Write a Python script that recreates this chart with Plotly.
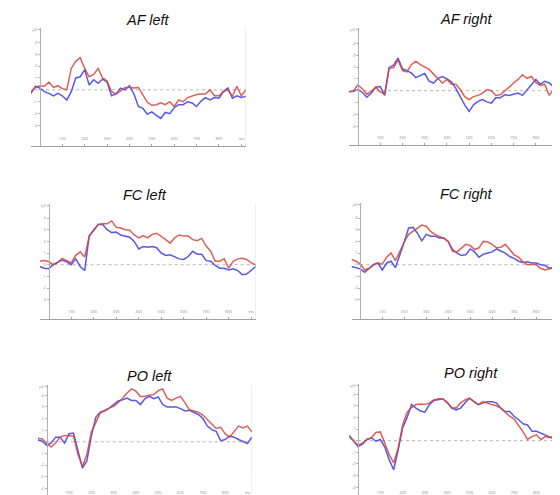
import plotly.graph_objects as go

# ---------------- data ----------------
time_ms = [-40, -20, 0, 20, 40, 60, 80, 100, 120, 140, 160, 180, 200, 220, 240, 260,
           280, 300, 320, 340, 360, 380, 400, 420, 440, 460, 480, 500, 520, 540, 560,
           580, 600, 620, 640, 660, 680, 700, 720, 740, 760, 780, 800, 820, 840, 860,
           880, 900, 920]

af_left_red = [-0.15, 0.2, 0.35, 0.3, 0.65, 0.2, 0.35, 0.1, 0.0, 1.8, 2.4, 2.7, 1.8, 1.1, 1.3, 1.8,
               1.0, 0.75, -0.15, -0.35, -0.1, 0.2, 0.2, 0.15, 0.2, -0.4, -1.05, -1.3, -1.25, -1.1, -1.25,
               -1.0, -1.4, -0.85, -1.0, -0.65, -0.5, -0.4, -0.35, -0.35, 0.0, -0.5, -0.5, -0.15, 0.0, -0.55,
               0.3, -0.5, 0.0]
af_left_blue = [-0.3, 0.3, 0.15, -0.15, -0.3, -0.5, -0.3, -0.5, -0.85, -0.15, 1.0, 1.1, 1.7, 0.4, 0.85, 0.55,
                0.9, 0.65, -0.5, -0.35, 0.15, 0.0, 0.35, -0.35, -1.4, -1.55, -2.05, -1.85, -2.15, -2.4, -1.9,
                -2.0, -1.5, -1.25, -1.25, -1.0, -1.1, -1.4, -0.95, -0.65, -0.85, -0.65, -0.7, -0.15, 0.15, -0.7,
                -0.5, -0.65, -0.55]

af_right_red = [-0.1, 0.0, 0.5, 0.15, -0.3, -0.05, 0.3, -0.1, -0.3, 1.9, 1.95, 2.6, 1.7, 1.6, 2.2, 2.5,
                2.2, 2.0, 1.8, 1.4, 1.05, 0.65, 0.95, 0.55, 0.55, 0.1, -0.5, -0.75, -0.5, -0.4, -0.2,
                0.1, 0.0, -0.4, -0.35, -0.05, 0.3, 0.65, 0.95, 1.35, 1.05, 1.2, 0.7, 0.45, 0.55, -0.4,
                0.1, -0.1, 0.25]
af_right_blue = [-0.1, -0.05, 0.1, -0.15, -0.55, -0.2, 0.3, 0.35, -0.4, 1.95, 2.15, 2.75, 1.85, 1.65, 1.5, 1.1,
                 1.3, 1.45, 0.8, 0.65, 1.05, 1.2, 1.0, 0.75, 0.2, -0.5, -1.2, -1.75, -1.2, -0.9, -0.75,
                 -0.95, -1.05, -0.6, -0.6, -0.35, -0.4, -0.3, -0.2, -0.4, 0.1, 0.5, 0.95, 0.55, 0.8, 0.65,
                 0.35, 0.55, 0.75]

fc_left_red = [0.3, 0.35, 0.25, 0.0, 0.2, 0.55, 0.35, 0.15, 0.8, 1.1, 0.65, 2.45, 2.9, 3.45, 3.5, 3.5,
               3.75, 3.2, 3.15, 3.0, 2.95, 2.55, 2.3, 2.5, 2.3, 2.6, 2.7, 2.45, 2.15, 1.85, 2.3,
               2.55, 2.45, 2.45, 2.15, 2.05, 2.25, 1.6, 1.15, 0.3, 0.3, 0.5, -0.3, 0.3, 0.5, 0.55,
               0.45, 0.15, 0.0]
fc_left_blue = [-0.15, -0.3, -0.35, 0.0, 0.2, 0.4, 0.25, 0.0, 0.5, -0.15, -0.5, 2.45, 3.0, 3.45, 3.45, 3.0,
                2.75, 2.8, 2.55, 2.45, 2.35, 2.0, 1.35, 1.55, 1.5, 1.55, 1.45, 1.0, 0.8, 0.85, 0.65,
                0.5, 0.45, 0.7, 1.15, 0.9, 0.9, 0.35, 0.3, -0.05, -0.3, -0.3, -0.45, -0.35, -0.5, -0.85,
                -0.8, -0.45, -0.15]

fc_right_red = [0.45, 0.3, 0.05, -0.45, -0.3, 0.0, 0.15, 0.05, 0.65, 1.0, 0.35, 1.15, 1.95, 2.6, 2.85, 3.1,
                3.4, 3.3, 2.85, 2.6, 2.45, 2.25, 2.0, 1.15, 1.1, 1.45, 1.75, 1.65, 1.3, 1.45, 2.0,
                1.95, 1.75, 1.45, 1.5, 1.75, 1.3, 0.85, 0.65, 0.25, 0.0, 0.05, 0.0, -0.3, -0.45, -0.35,
                -0.25, -0.15, -0.05]
fc_right_blue = [-0.15, -0.25, -0.35, -0.65, -0.35, 0.0, 0.15, -0.45, 0.15, 0.3, -0.25, 0.8, 1.95, 3.15, 3.2, 2.7,
                 2.05, 2.6, 2.45, 2.45, 2.3, 2.3, 2.0, 1.3, 1.0, 0.8, 0.85, 1.35, 1.1, 0.65, 0.9,
                 1.0, 1.1, 1.35, 1.15, 1.0, 0.7, 0.55, 0.3, 0.2, 0.25, 0.15, 0.15, 0.0, -0.05, -0.3,
                 -0.25, -0.15, -0.3]

po_left_red = [0.3, 0.25, -0.1, -0.45, -0.1, 0.4, 0.55, 0.5, 0.5, -1.1, -2.1, -1.1, 0.85, 1.65, 2.5, 2.65,
               2.9, 3.05, 3.35, 3.75, 4.2, 4.55, 4.35, 3.9, 3.9, 4.0, 4.05, 4.4, 4.55, 3.75, 3.55,
               3.75, 3.9, 3.35, 2.75, 2.65, 2.55, 2.3, 1.9, 1.5, 1.15, 1.25, 0.7, 0.4, 0.9, 1.35,
               1.2, 1.35, 0.85]
po_left_blue = [0.15, 0.05, -0.3, -0.1, 0.4, 0.4, -0.1, 0.7, 0.75, -0.65, -2.25, -1.65, 0.5, 2.1, 2.55, 2.7,
                2.9, 3.2, 3.5, 3.6, 3.75, 3.55, 3.55, 3.2, 3.7, 3.9, 3.7, 3.85, 3.2, 3.0, 3.0,
                3.0, 2.85, 2.65, 2.7, 2.5, 2.35, 2.0, 1.35, 1.05, 0.9, 0.1, 0.2, 0.5, 0.4, 0.2,
                0.0, -0.15, 0.4]

po_right_red = [0.35, -0.05, -0.4, -0.2, 0.1, 0.25, 0.7, 0.75, -0.3, -1.2, -1.9, -0.65, 1.35, 2.45, 2.85, 3.1,
                3.15, 3.1, 3.25, 3.5, 3.6, 3.6, 3.25, 2.85, 2.8, 3.25, 3.5, 3.65, 3.35, 3.1, 3.35,
                3.2, 3.1, 3.0, 2.8, 2.45, 2.1, 1.85, 1.35, 0.75, 0.1, 0.35, 0.5, 0.1, 0.35, 0.25,
                0.45, 0.75, 0.55]
po_right_blue = [0.45, 0.0, -0.5, -0.3, 0.1, 0.25, -0.05, 0.1, -0.55, -1.65, -2.5, -0.8, 1.1, 2.0, 3.1, 2.8,
                 2.55, 2.45, 3.1, 3.45, 3.55, 3.6, 3.3, 2.8, 2.65, 2.8, 3.25, 3.65, 3.35, 3.1, 3.25,
                 3.35, 3.35, 3.25, 2.8, 2.5, 2.5, 2.1, 1.8, 1.45, 1.35, 0.8, 0.8, 0.65, 0.5, 0.35,
                 0.15, -0.1, 0.1]

panel_titles = ["AF left", "AF right", "FC left", "FC right", "PO left", "PO right"]
red_series = [af_left_red, af_right_red, fc_left_red, fc_right_red, po_left_red, po_right_red]
blue_series = [af_left_blue, af_right_blue, fc_left_blue, fc_right_blue, po_left_blue, po_right_blue]

x_tick_vals = [100, 200, 300, 400, 500, 600, 700, 800, 900]
x_tick_text = ["100", "200", "300", "400", "500", "600", "700", "800", "ms"]
y_tick_vals = [-4, -3, -2, -1, 0, 1, 2, 3, 4]
y_tick_text = ["-4", "-3", "-2", "-1", "0", "1", "2", "3", "4"]

# ---------------- layout geometry (pixels) ----------------
W, H = 560, 495
geometry = [
    dict(x_px=(23.0, 237.8), y_px=(20, 137.5), yr=(-4.68, 5.2), tc=(140, 11.5)),
    dict(x_px=(341.1, 554.5), y_px=(20, 136.5), yr=(-4.55, 5.3), tc=(457.5, 10.5)),
    dict(x_px=(31.7, 247.7), y_px=(196, 311), yr=(-4.65, 5.2), tc=(136.7, 187.3)),
    dict(x_px=(343.5, 554.5), y_px=(195, 311), yr=(-4.65, 5.29), tc=(458.3, 186)),
    dict(x_px=(29.8, 243.9), y_px=(377, 492), yr=(-5.0, 4.88), tc=(141.3, 367.5)),
    dict(x_px=(341.1, 555.2), y_px=(376, 492), yr=(-5.1, 4.87), tc=(462.7, 365.2)),
]

RED = "#d8453b"
BLUE = "#4747e8"
T0, T1 = time_ms[0], time_ms[-1]

fig = go.Figure()
shapes = []
annotations = []
layout_axes = {}

for i, g in enumerate(geometry):
    n = i + 1
    xs = "" if n == 1 else str(n)
    x0p, x1p = g["x_px"]
    ytp, ybp = g["y_px"]
    ylo, yhi = g["yr"]
    zero_px = x0p + (0 - T0) / (T1 - T0) * (x1p - x0p)

    fig.add_trace(go.Scatter(x=time_ms, y=blue_series[i], mode="lines",
                             line=dict(color=BLUE, width=1.5), opacity=0.9,
                             xaxis="x" + xs, yaxis="y" + xs, showlegend=False))
    fig.add_trace(go.Scatter(x=time_ms, y=red_series[i], mode="lines",
                             line=dict(color=RED, width=1.5), opacity=0.85,
                             xaxis="x" + xs, yaxis="y" + xs, showlegend=False))

    layout_axes["xaxis" + xs] = dict(
        domain=[x0p / W, x1p / W], range=[T0, T1], anchor="y" + xs,
        showline=True, linecolor="#a0a0a0", linewidth=1,
        ticks="inside", ticklen=2, tickcolor="#a0a0a0",
        tickvals=x_tick_vals, ticktext=x_tick_text,
        tickfont=dict(size=4, color="#909090"), ticklabelposition="inside",
        ticklabelstandoff=1,
        showgrid=False, zeroline=False, automargin=False, fixedrange=True)
    layout_axes["yaxis" + xs] = dict(
        domain=[1 - ybp / H, 1 - ytp / H], range=[ylo, yhi], anchor="free",
        position=zero_px / W,
        showline=True, linecolor="#b0b0b0", linewidth=1,
        ticks="outside", ticklen=2, tickcolor="#b0b0b0",
        tickvals=y_tick_vals + [yhi - 0.15], ticktext=y_tick_text + ["µV"],
        tickfont=dict(size=4, color="#909090"),
        showgrid=False, zeroline=False, automargin=False, fixedrange=True)

    shapes.append(dict(type="line", xref="x" + xs, yref="y" + xs, x0=0, x1=T1, y0=0, y1=0,
                       line=dict(color="#b5b5b5", width=1, dash="dot"), layer="below"))
    shapes.append(dict(type="line", xref="x" + xs, yref="y" + xs, x0=T1, x1=T1, y0=ylo, y1=yhi,
                       line=dict(color="#e2e2e2", width=1), layer="below"))

    cx, cy = g["tc"]
    annotations.append(dict(text="<i>" + panel_titles[i] + "</i>", xref="paper", yref="paper",
                            x=cx / W, y=1 - cy / H, xanchor="center", yanchor="middle",
                            showarrow=False,
                            font=dict(family="Liberation Sans, Arial, sans-serif", size=14.5,
                                      color="#111111")))

fig.update_layout(
    width=W, height=H,
    margin=dict(l=0, r=0, t=0, b=0),
    paper_bgcolor="white", plot_bgcolor="white",
    shapes=shapes, annotations=annotations,
    showlegend=False,
    **layout_axes,
)

fig.write_html("out.html")
